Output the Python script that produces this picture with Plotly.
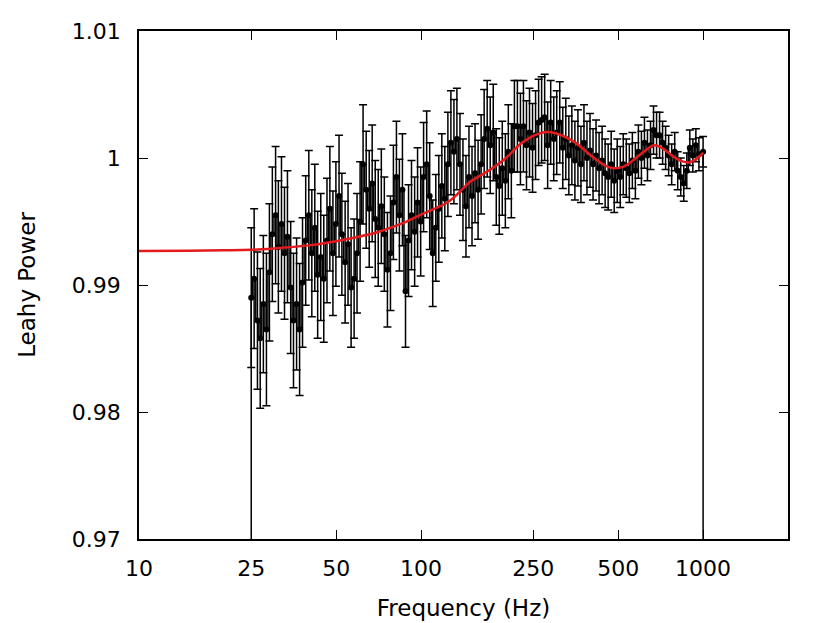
import plotly.graph_objects as go

# frequencias dos bins (Hz)
freq = [
    25.0, 25.6, 26.3, 26.9, 27.6, 28.3, 29.0, 29.7, 30.5, 31.2,
    32.0, 32.8, 33.6, 34.5, 35.3, 36.2, 37.1, 38.0, 39.0, 40.0,
    41.0, 42.0, 43.0, 44.1, 45.2, 46.4, 47.5, 48.7, 49.9, 51.2,
    52.4, 53.8, 55.1, 56.5, 57.9, 59.3, 60.8, 62.3, 63.9, 65.5,
    67.1, 68.8, 70.5, 72.3, 74.1, 76.0, 77.9, 79.8, 81.8, 83.8,
    85.9, 88.1, 90.3, 92.5, 94.9, 97.2, 99.7, 102.1, 104.7, 107.3,
    110.0, 112.8, 115.6, 118.5, 121.4, 124.5, 127.6, 130.8, 134.0, 137.4,
    140.8, 144.3, 147.9, 151.6, 155.4, 159.3, 163.3, 167.4, 171.6, 175.9,
    180.3, 184.8, 189.4, 194.1, 199.0, 203.9, 209.0, 214.3, 219.6, 225.1,
    230.7, 236.5, 242.4, 248.5, 254.7, 261.1, 267.6, 274.3, 281.1, 288.2,
    295.4, 302.7, 310.3, 318.1, 326.0, 334.2, 342.5, 351.1, 359.9, 368.9,
    378.1, 387.5, 397.2, 407.2, 417.3, 427.8, 438.5, 449.4, 460.7, 472.2,
    484.0, 496.1, 508.5, 521.2, 534.2, 547.6, 561.3, 575.3, 589.7, 604.4,
    619.5, 635.0, 650.9, 667.2, 683.9, 701.0, 718.5, 736.4, 754.8, 773.7,
    793.1, 812.9, 833.2, 854.0, 875.4, 897.3, 919.7, 942.7, 966.3, 1000.0,
]

# potencia de Leahy medida
power = [
    0.9890, 0.9905, 0.9872, 0.9858, 0.9885, 0.9865, 0.9910, 0.9940, 0.9955, 0.9930,
    0.9948, 0.9925, 0.9938, 0.9898, 0.9872, 0.9885, 0.9865, 0.9902, 0.9935, 0.9955,
    0.9925, 0.9945, 0.9908, 0.9922, 0.9905, 0.9935, 0.9960, 0.9925, 0.9948, 0.9970,
    0.9940, 0.9918, 0.9932, 0.9898, 0.9905, 0.9925, 0.9950, 0.9995, 0.9975, 0.9960,
    0.9980, 0.9952, 0.9945, 0.9962, 0.9940, 0.9912, 0.9925, 0.9965, 0.9985, 0.9955,
    0.9975, 0.9895, 0.9935, 0.9955, 0.9942, 0.9965, 0.9950, 0.9985, 0.9995, 0.9970,
    0.9925, 0.9945, 0.9960, 0.9978, 0.9968, 0.9995, 1.0012, 1.0005, 1.0015, 0.9995,
    0.9975, 0.9962, 0.9985, 0.9970, 0.9988, 0.9975, 0.9995, 1.0015, 1.0023, 1.0010,
    1.0020, 0.9985, 0.9978, 0.9992, 0.9982, 1.0005, 0.9990, 1.0025, 1.0025, 1.0015,
    1.0025, 1.0010, 1.0020, 1.0008, 1.0018, 1.0028, 1.0030, 1.0032, 1.0010, 1.0028,
    1.0015, 1.0020, 1.0028, 1.0008, 1.0015, 1.0002, 1.0010, 0.9998, 1.0008, 0.9995,
    1.0012, 1.0000, 1.0006, 0.9995, 1.0002, 0.9992, 0.9998, 0.9988, 0.9985, 0.9995,
    0.9982, 0.9990, 0.9985, 0.9995, 0.9992, 0.9988, 0.9998, 0.9990, 1.0005, 1.0000,
    1.0012, 1.0002, 1.0010, 1.0022, 1.0018, 1.0018, 1.0012, 1.0008, 1.0002, 0.9995,
    1.0005, 0.9990, 0.9985, 0.9980, 0.9990, 1.0008, 1.0002, 1.0010, 1.0003, 1.0005,
]

# erro de cada bin
power_err = [
    0.0055, 0.0055, 0.0054, 0.0055, 0.0054, 0.0060, 0.0054, 0.0053, 0.0054, 0.0052,
    0.0053, 0.0052, 0.0052, 0.0052, 0.0053, 0.0052, 0.0052, 0.0051, 0.0051, 0.0051,
    0.0050, 0.0050, 0.0050, 0.0050, 0.0050, 0.0049, 0.0049, 0.0049, 0.0049, 0.0048,
    0.0048, 0.0048, 0.0048, 0.0047, 0.0047, 0.0047, 0.0047, 0.0047, 0.0046, 0.0046,
    0.0046, 0.0046, 0.0046, 0.0045, 0.0045, 0.0045, 0.0045, 0.0045, 0.0044, 0.0044,
    0.0044, 0.0044, 0.0044, 0.0043, 0.0043, 0.0043, 0.0043, 0.0043, 0.0042, 0.0042,
    0.0042, 0.0042, 0.0042, 0.0041, 0.0041, 0.0041, 0.0041, 0.0041, 0.0040, 0.0040,
    0.0040, 0.0040, 0.0040, 0.0039, 0.0039, 0.0039, 0.0039, 0.0039, 0.0038, 0.0038,
    0.0038, 0.0038, 0.0038, 0.0037, 0.0037, 0.0037, 0.0037, 0.0036, 0.0036, 0.0036,
    0.0036, 0.0035, 0.0035, 0.0035, 0.0035, 0.0034, 0.0034, 0.0034, 0.0034, 0.0033,
    0.0033, 0.0033, 0.0032, 0.0032, 0.0032, 0.0031, 0.0031, 0.0031, 0.0030, 0.0030,
    0.0030, 0.0029, 0.0029, 0.0028, 0.0028, 0.0028, 0.0027, 0.0027, 0.0026, 0.0026,
    0.0025, 0.0025, 0.0024, 0.0024, 0.0023, 0.0023, 0.0022, 0.0022, 0.0021, 0.0021,
    0.0020, 0.0020, 0.0019, 0.0019, 0.0018, 0.0018, 0.0017, 0.0017, 0.0016, 0.0016,
    0.0015, 0.0015, 0.0015, 0.0014, 0.0014, 0.0014, 0.0013, 0.0013, 0.0013, 0.0012,
]

# modelo ajustado (curva vermelha)
model_freq = [10, 15, 20, 25, 30, 40, 50, 60, 70, 80, 90, 100, 125, 150, 175,
              200, 225, 250, 277, 300, 350, 400, 450, 480, 520, 560, 620, 670,
              720, 780, 840, 892, 950, 1000]
model_power = [0.99268, 0.99270, 0.99273, 0.99277, 0.99288, 0.99312, 0.99345,
               0.99380, 0.99415, 0.99460, 0.99505, 0.99555, 0.99655, 0.99815,
               0.99905, 1.00000, 1.00110, 1.00175, 1.00205, 1.00195, 1.00125,
               1.00020, 0.99940, 0.99920, 0.99930, 0.99975, 1.00055, 1.00100,
               1.00075, 1.00015, 0.99975, 0.99965, 0.99995, 1.00040]

x_ticks = [10, 25, 50, 100, 250, 500, 1000]
y_ticks = [0.97, 0.98, 0.99, 1.0, 1.01]
y_tick_text = ['0.97', '0.98', '0.99', '1', '1.01']

baseline = 0.97

fig = go.Figure()

# histeps: degraus entre os bins, descendo ate a base nas pontas
fig.add_trace(go.Scatter(
    x=[freq[0]] + freq + [freq[-1]],
    y=[baseline] + power + [baseline],
    mode='lines',
    line=dict(color='black', width=1.5, shape='hvh'),
    hoverinfo='skip',
    showlegend=False))

fig.add_trace(go.Scatter(
    x=freq, y=power,
    mode='markers',
    marker=dict(size=0, color='black'),
    error_y=dict(type='data', array=power_err, color='black', thickness=1.5, width=4),
    showlegend=False))

fig.add_trace(go.Scatter(
    x=model_freq, y=model_power,
    mode='lines',
    line=dict(color='rgb(228,26,28)', width=2.5, shape='spline', smoothing=1),
    showlegend=False))

font_family = 'DejaVu Sans'

# a pagina tem margem de 8px no body, por isso as margens ja compensam
fig.update_layout(
    width=830, height=623,
    margin=dict(l=131, r=50, t=23, b=92),
    paper_bgcolor='white', plot_bgcolor='white',
    font=dict(family=font_family, size=22, color='black'),
    showlegend=False,
)

fig.update_xaxes(
    type='log', range=[1, 3.30103],
    tickvals=x_ticks, ticktext=[str(v) for v in x_ticks],
    ticks='inside', ticklen=9, tickwidth=1.2, tickcolor='black',
    showline=True, linecolor='black', linewidth=1.5, mirror='ticks',
    showgrid=False, zeroline=False, automargin=False,
    ticklabelstandoff=9,
    title=dict(text='Frequency (Hz)', font=dict(size=23), standoff=20),
)

fig.update_yaxes(
    range=[0.97, 1.01],
    tickvals=y_ticks, ticktext=y_tick_text,
    ticks='inside', ticklen=9, tickwidth=1.2, tickcolor='black',
    showline=True, linecolor='black', linewidth=1.5, mirror='ticks',
    showgrid=False, zeroline=False, automargin=False,
    ticklabelstandoff=12,
    title=dict(text='Leahy Power', font=dict(size=23), standoff=30),
)

fig.write_html("out.html")
